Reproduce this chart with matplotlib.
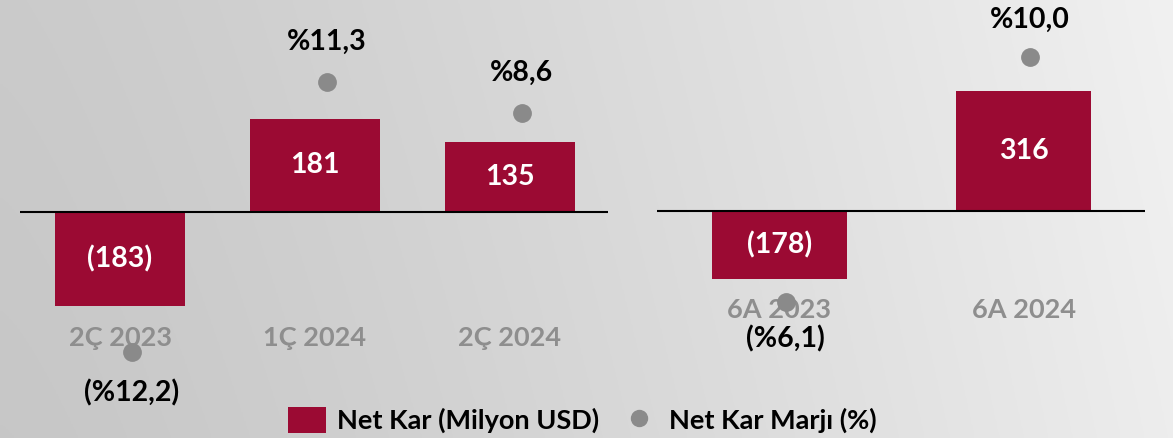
import matplotlib
matplotlib.use('Agg')
import matplotlib.pyplot as plt
import numpy as np
from matplotlib.patches import Patch
from matplotlib.lines import Line2D

# ---- data ----
q_labels = ['2Ç 2023', '1Ç 2024', '2Ç 2024']
q_profit = [-183, 181, 135]
q_margin = [-12.2, 11.3, 8.6]

h_labels = ['6A 2023', '6A 2024']
h_profit = [-178, 316]
h_margin = [-6.1, 10.0]

legend_labels = ['Net Kar (Milyon USD)', 'Net Kar Marjı (%)']

# ---- style ----
BAR = '#9B0A33'
DOT = '#8A8A8A'
CAT = '#8E8E8E'
FONT = 'Lato'
W, H = 1173, 438

fig = plt.figure(figsize=(W / 100, H / 100), dpi=100)

# background gradient
bg = fig.add_axes([0, 0, 1, 1], zorder=-10)
xx = np.linspace(0, 1, 400)
yy = np.linspace(0, 1, 100)
X, Y = np.meshgrid(xx, yy)
V = 0.78 + 0.15 * X ** 1.3 + 0.015 * Y
bg.imshow(np.dstack([V, V, V]), origin='lower', extent=[0, 1, 0, 1], aspect='auto')
bg.set_axis_off()


def fmt_profit(v):
    return f'({abs(v)})' if v < 0 else f'{v}'


def fmt_margin(v):
    s = f'%{abs(v):.1f}'.replace('.', ',')
    return f'({s})' if v < 0 else s


def panel(x0, x1, labels, profit, margin, xlim, ylim_bar, ylim_m, dot_shift,
          bar_w, cat_y, lab_off):
    rect = [x0 / W, 0, (x1 - x0) / W, 1]
    ax = fig.add_axes(rect)
    ax.patch.set_alpha(0)
    x = np.arange(len(labels))
    ax.bar(x, profit, width=bar_w, color=BAR, zorder=2)
    ax.axhline(0, color='black', lw=1.5, zorder=3)
    ax.set_xlim(*xlim)
    ax.set_ylim(*ylim_bar)
    for xi, v in zip(x, profit):
        ax.text(xi, v / 2, fmt_profit(v), ha='center', va='center', color='white',
                fontsize=20.5, fontweight='bold', family=FONT, zorder=4)
    tr = ax.get_xaxis_transform()
    for xi, lab in zip(x, labels):
        ax.text(xi, cat_y, lab, transform=tr, ha='center', va='center', color=CAT,
                fontsize=19.5, fontweight='bold', family=FONT, zorder=1)
    ax.set_axis_off()

    am = fig.add_axes(rect)
    am.patch.set_alpha(0)
    am.set_xlim(xlim[0] - dot_shift, xlim[1] - dot_shift)
    am.set_ylim(*ylim_m)
    am.plot(x, margin, ls='', marker='o', markersize=12.5, color=DOT, zorder=5)
    for xi, v in zip(x, margin):
        off = lab_off if v >= 0 else -lab_off
        am.annotate(fmt_margin(v), (xi, v), xytext=(0, off), textcoords='offset points',
                    ha='center', va='center', fontsize=20.5, fontweight='bold',
                    family=FONT, color='black')
    am.set_axis_off()


panel(20, 608, q_labels, q_profit, q_margin,
      (-0.513, 2.503), (-440, 412), (-19.65, 18.43), 0.06, 0.667, 0.228, 29)
panel(657, 1145, h_labels, h_profit, h_margin,
      (-0.501, 1.495), (-597, 555), (-15.07, 13.75), 0.025, 0.552, 0.292, 27)

handles = [Patch(facecolor=BAR, edgecolor='none'),
           Line2D([], [], ls='', marker='o', markersize=11.5, color=DOT)]
fig.legend(handles, legend_labels, loc='center', bbox_to_anchor=(582 / W, 18 / H),
           ncol=2, frameon=False, prop=dict(family=FONT, weight='bold', size=19.5),
           handlelength=1.4, handleheight=1.1, handletextpad=0.4, columnspacing=0.78,
           borderpad=0.1)

fig.savefig('out.png', dpi=100)
